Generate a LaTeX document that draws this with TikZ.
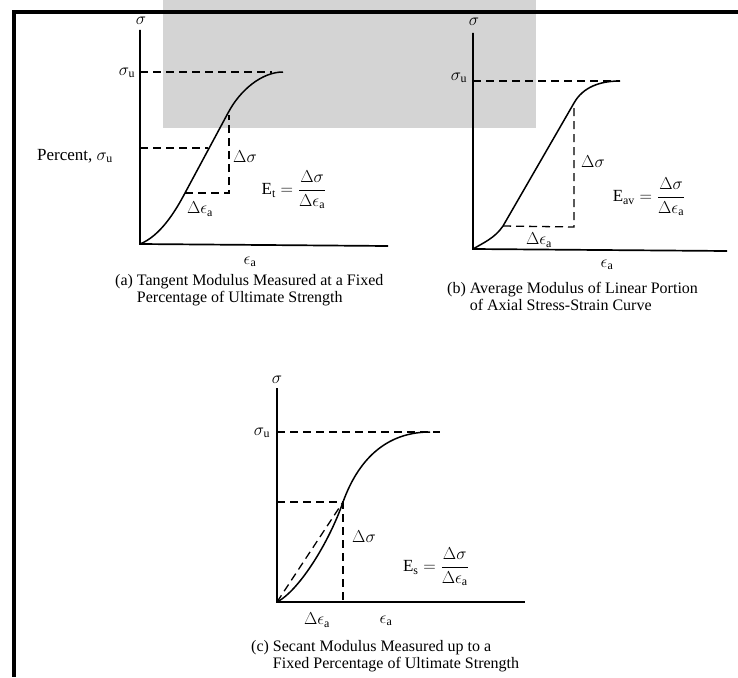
\documentclass[tikz,border=0pt]{standalone}
\usepackage{fontspec}
\setmainfont{Liberation Serif}
\usepackage{amsmath}
\begin{document}
\begin{tikzpicture}[x=1pt,y=-1pt,
  axisline/.style={line width=1.7pt,black},
  dsh/.style={line width=1.3pt,dash pattern=on 8pt off 5pt},
  crv/.style={line width=1.5pt},
  lbl/.style={inner sep=0pt,font=\fontsize{17}{19}\selectfont},
  frm/.style={inner sep=0pt,font=\fontsize{17}{19}\selectfont},
  captext/.style={inner sep=0pt,anchor=north west,font=\fontsize{16}{16.5}\selectfont}]
\useasboundingbox (0,0) rectangle (738,677);
\fill[white] (0,0) rectangle (738,677);
\fill[black!17] (163,0) rectangle (536,128);
\draw[line width=3.5pt] (738,12) -- (14,12) -- (14,677);

% ---------- panel (a)
\coordinate (aO) at (140,244);
\coordinate (aY) at (140,30);
\coordinate (aX) at (388,246);
\coordinate (aU) at (140,72);
\coordinate (aUe) at (272,72);
\coordinate (aP1) at (185,193);
\coordinate (aP2) at (228,113);
\coordinate (aTop) at (283,72);
\coordinate (aPc) at (140,148);
\coordinate (aPe) at (208,148);
\coordinate (aC) at (229,193);
\coordinate (aT) at (229,115);
\draw[axisline] (aY) -- (aO) -- (aX);
\draw[dsh] (aU) -- (aUe);
\draw[dsh] (aPc) -- (aPe);
\draw[dsh] (aP1) -- (aC) -- (aT);
\draw[crv] (aO) .. controls (160,236) and (175,212) .. (aP1) -- (aP2) .. controls (240,90) and (262,72) .. (aTop);
\node[lbl] (aSig) at (141,21) {$\sigma$};
\node[lbl] (aSu) at (127,73) {$\sigma_{\mathrm{u}}$};
\node[lbl] (aPct) at (75,156) {Percent, $\sigma_{\mathrm{u}}$};
\node[lbl] (aDs) at (245,157) {$\Delta\sigma$};
\node[lbl] (aDe) at (200,209) {$\Delta\epsilon_{\mathrm{a}}$};
\node[frm] (aE) at (294,190) {$\mathrm{E}_{\mathrm{t}}=\dfrac{\Delta\sigma}{\Delta\epsilon_{\mathrm{a}}}$};
\node[lbl] (aEa) at (250,262) {$\epsilon_{\mathrm{a}}$};
\node[captext] (aCap) at (115,274) {\begin{tabular}{@{}l@{ }l@{}}(a)&Tangent Modulus Measured at a Fixed\\&Percentage of Ultimate Strength\end{tabular}};

% ---------- panel (b)
\coordinate (bO) at (473,249);
\coordinate (bY) at (473,33);
\coordinate (bX) at (727,251);
\coordinate (bU) at (473,81);
\coordinate (bUe) at (620,81);
\coordinate (bP1) at (503,226);
\coordinate (bP2) at (574,103);
\coordinate (bTop) at (620,81);
\coordinate (bC) at (574,227);
\draw[axisline] (bY) -- (bO) -- (bX);
\draw[dsh] (bU) -- (bUe);
\draw[dsh] (bP1) -- (bC) -- (bP2);
\draw[crv] (bO) .. controls (483,243) and (495,238) .. (bP1) -- (bP2) .. controls (583,87) and (600,81) .. (bTop);
\node[lbl] (bSig) at (474,22) {$\sigma$};
\node[lbl] (bSu) at (459,78) {$\sigma_{\mathrm{u}}$};
\node[lbl] (bDs) at (593,162) {$\Delta\sigma$};
\node[lbl] (bDe) at (539,240) {$\Delta\epsilon_{\mathrm{a}}$};
\node[frm] (bE) at (649,197) {$\mathrm{E}_{\mathrm{av}}=\dfrac{\Delta\sigma}{\Delta\epsilon_{\mathrm{a}}}$};
\node[lbl] (bEa) at (607,265) {$\epsilon_{\mathrm{a}}$};
\node[captext] (bCap) at (447,282) {\begin{tabular}{@{}l@{ }l@{}}(b)&Average Modulus of Linear Portion\\&of Axial Stress-Strain Curve\end{tabular}};

% ---------- panel (c)
\coordinate (cO) at (277,602);
\coordinate (cY) at (277,388);
\coordinate (cX) at (525,602);
\coordinate (cU) at (277,432);
\coordinate (cUe) at (440,432);
\coordinate (cP) at (343,502);
\coordinate (cPc) at (277,502);
\coordinate (cB) at (343,602);
\coordinate (cTop) at (430,432);
\draw[axisline] (cY) -- (cO) -- (cX);
\draw[dsh] (cU) -- (cUe);
\draw[dsh] (cPc) -- (cP) -- (cB);
\draw[dsh] (cO) -- (cP);
\draw[crv] (cO) .. controls (300,590) and (330,540) .. (cP) .. controls (360,455) and (390,432) .. (cTop);
\node[lbl] (cSig) at (277,380) {$\sigma$};
\node[lbl] (cSu) at (262,433) {$\sigma_{\mathrm{u}}$};
\node[lbl] (cDs) at (364,537) {$\Delta\sigma$};
\node[lbl] (cDe) at (317,620) {$\Delta\epsilon_{\mathrm{a}}$};
\node[frm] (cE) at (436,567) {$\mathrm{E}_{\mathrm{s}}=\dfrac{\Delta\sigma}{\Delta\epsilon_{\mathrm{a}}}$};
\node[lbl] (cEa) at (386,621) {$\epsilon_{\mathrm{a}}$};
\node[captext] (cCap) at (251,640) {\begin{tabular}{@{}l@{ }l@{}}(c)&Secant Modulus Measured up to a\\&Fixed Percentage of Ultimate Strength\end{tabular}};
\end{tikzpicture}
\end{document}
